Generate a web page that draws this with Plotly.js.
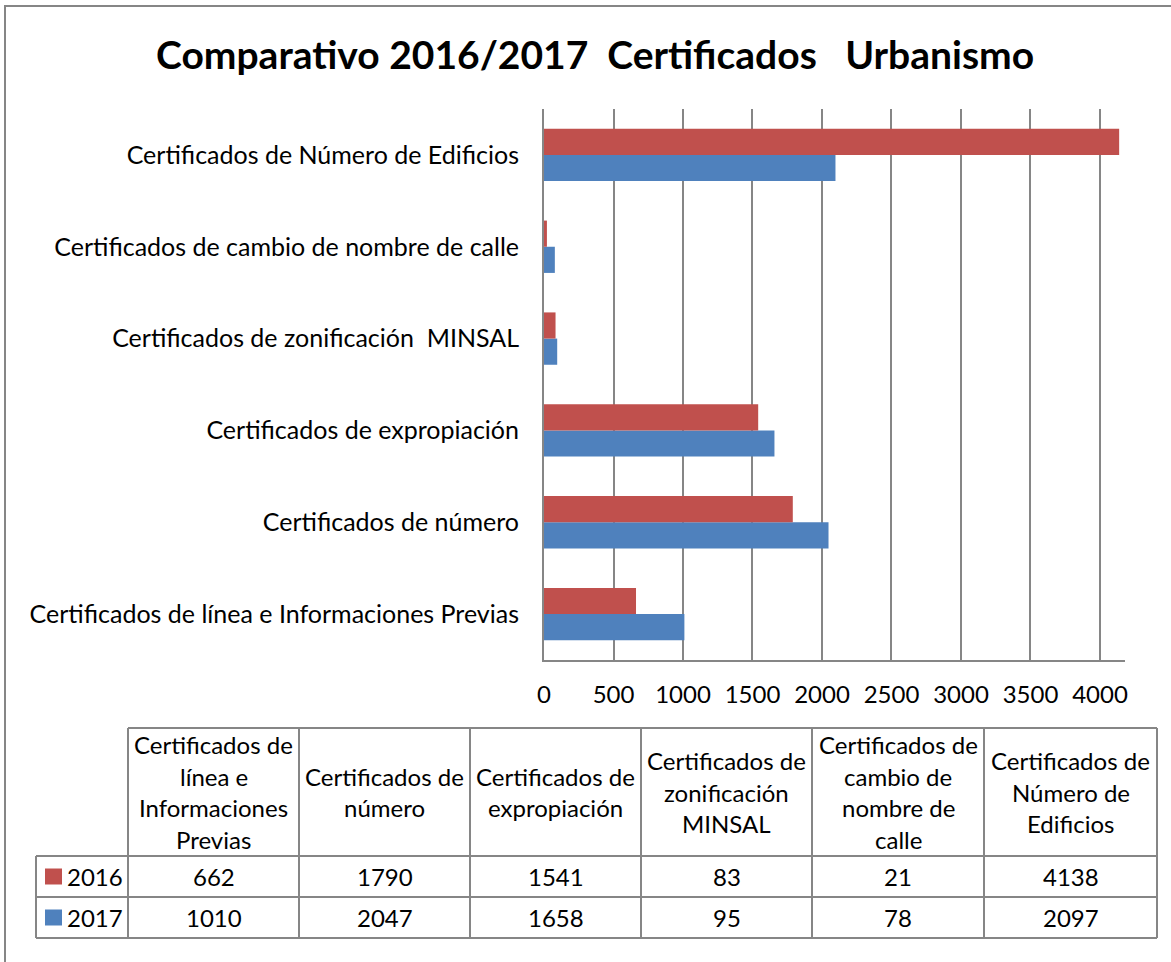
<!DOCTYPE html>
<html>
<head>
<meta charset="utf-8">
<script src="https://cdn.plot.ly/plotly-3.0.1.min.js"></script>
<style>html,body{margin:0;padding:0;background:#fff;}</style>
</head>
<body>
<div id="chart" style="width:1171px;height:962px;"></div>
<script>
// ---- data ----
const categories = [
  "Certificados de línea e Informaciones Previas",
  "Certificados de número",
  "Certificados de expropiación",
  "Certificados de zonificación\u00a0\u00a0MINSAL",
  "Certificados de cambio de nombre de calle",
  "Certificados de Número de Edificios"
];
const tableHeaders = [
  ["Certificados de", "línea e", "Informaciones", "Previas"],
  ["Certificados de", "número"],
  ["Certificados de", "expropiación"],
  ["Certificados de", "zonificación", "MINSAL"],
  ["Certificados de", "cambio de", "nombre de", "calle"],
  ["Certificados de", "Número de", "Edificios"]
];
const seriesNames = ["2016", "2017"];
const values2016 = [662, 1790, 1541, 83, 21, 4138];
const values2017 = [1010, 2047, 1658, 95, 78, 2097];
const titleText = "Comparativo 2016/2017\u00a0\u00a0Certificados\u00a0\u00a0\u00a0Urbanismo";

// ---- layout helpers ----
const W = 1171, H = 962;
const px = x => x / W;
const py = y => 1 - y / H;
const RED = "#C0504D", BLUE = "#4F81BD", GRID = "#868686";
const FONT = "Lato, 'Open Sans', sans-serif";
const FS = 24;

const traces = [
  {type: "bar", orientation: "h", name: seriesNames[1], y: categories, x: values2017,
   marker: {color: BLUE}, hoverinfo: "x+name"},
  {type: "bar", orientation: "h", name: seriesNames[0], y: categories, x: values2016,
   marker: {color: RED}, hoverinfo: "x+name"}
];

const shapes = [];
const annotations = [];

// outer border
shapes.push({type: "rect", xref: "paper", yref: "paper", x0: px(5), x1: px(1185), y0: py(6), y1: py(990),
  line: {color: GRID, width: 2}});

// table geometry
const colX = [36, 128, 299, 470, 641, 812, 984, 1157];
const rowY = [728, 856, 897, 938];
const hline = (x0, x1, y) => shapes.push({type: "line", xref: "paper", yref: "paper",
  x0: px(x0), x1: px(x1), y0: py(y), y1: py(y), line: {color: GRID, width: 2}});
const vline = (x, y0, y1) => shapes.push({type: "line", xref: "paper", yref: "paper",
  x0: px(x), x1: px(x), y0: py(y0), y1: py(y1), line: {color: GRID, width: 2}});

hline(colX[1], colX[7], rowY[0]);
for (let r = 1; r < rowY.length; r++) hline(colX[0], colX[7], rowY[r]);
vline(colX[0], rowY[1], rowY[3]);
for (let c = 1; c < colX.length; c++) vline(colX[c], rowY[0], rowY[3]);

const txt = (x, y, text, opts = {}) => annotations.push(Object.assign({
  xref: "paper", yref: "paper", x: px(x), y: py(y), text: text, showarrow: false,
  xanchor: "center", yanchor: "middle", font: {family: FONT, size: FS, color: "#000"}
}, opts));

// header cells
const headerMid = (rowY[0] + rowY[1]) / 2;
const LS = 31.5;
tableHeaders.forEach((lines, i) => {
  const cx = (colX[i + 1] + colX[i + 2]) / 2;
  const start = headerMid - (lines.length - 1) * LS / 2;
  lines.forEach((ln, j) => txt(cx, start + j * LS, ln));
});

// data rows
const rows = [[seriesNames[0], values2016, RED], [seriesNames[1], values2017, BLUE]];
rows.forEach((row, r) => {
  const cy = (rowY[r + 1] + rowY[r + 2]) / 2;
  shapes.push({type: "rect", xref: "paper", yref: "paper",
    x0: px(45), x1: px(62), y0: py(cy - 8), y1: py(cy + 8),
    fillcolor: row[2], line: {width: 0}});
  txt(95, cy, row[0]);
  row[1].forEach((v, i) => txt((colX[i + 1] + colX[i + 2]) / 2, cy, String(v)));
});

// title
txt(595, 54, "<b>" + titleText + "</b>", {font: {family: FONT, size: 39, color: "#000"}});

const layout = {
  width: W, height: H,
  margin: {l: 0, r: 0, t: 0, b: 0},
  paper_bgcolor: "#fff", plot_bgcolor: "#fff",
  showlegend: false,
  barmode: "group",
  bargap: 0.43,
  bargroupgap: 0,
  font: {family: FONT, size: FS, color: "#000"},
  xaxis: {
    domain: [px(544), px(1125)],
    range: [0, 4180],
    dtick: 500, tick0: 0,
    showgrid: true, gridcolor: GRID, gridwidth: 2,
    zeroline: false,
    showline: true, linecolor: GRID, linewidth: 2,
    ticks: "", ticklabelstandoff: 12,
    tickfont: {family: FONT, size: FS, color: "#000"},
    automargin: false, fixedrange: true
  },
  yaxis: {
    domain: [py(660), py(109)],
    type: "category",
    categoryorder: "array", categoryarray: categories,
    showgrid: false, zeroline: false,
    showline: true, linecolor: GRID, linewidth: 2,
    ticks: "", ticklabelstandoff: 18,
    tickfont: {family: FONT, size: 25, color: "#000"},
    automargin: false, fixedrange: true
  },
  shapes: shapes,
  annotations: annotations
};

Plotly.newPlot("chart", traces, layout, {displayModeBar: false, staticPlot: true});
</script>
</body>
</html>
